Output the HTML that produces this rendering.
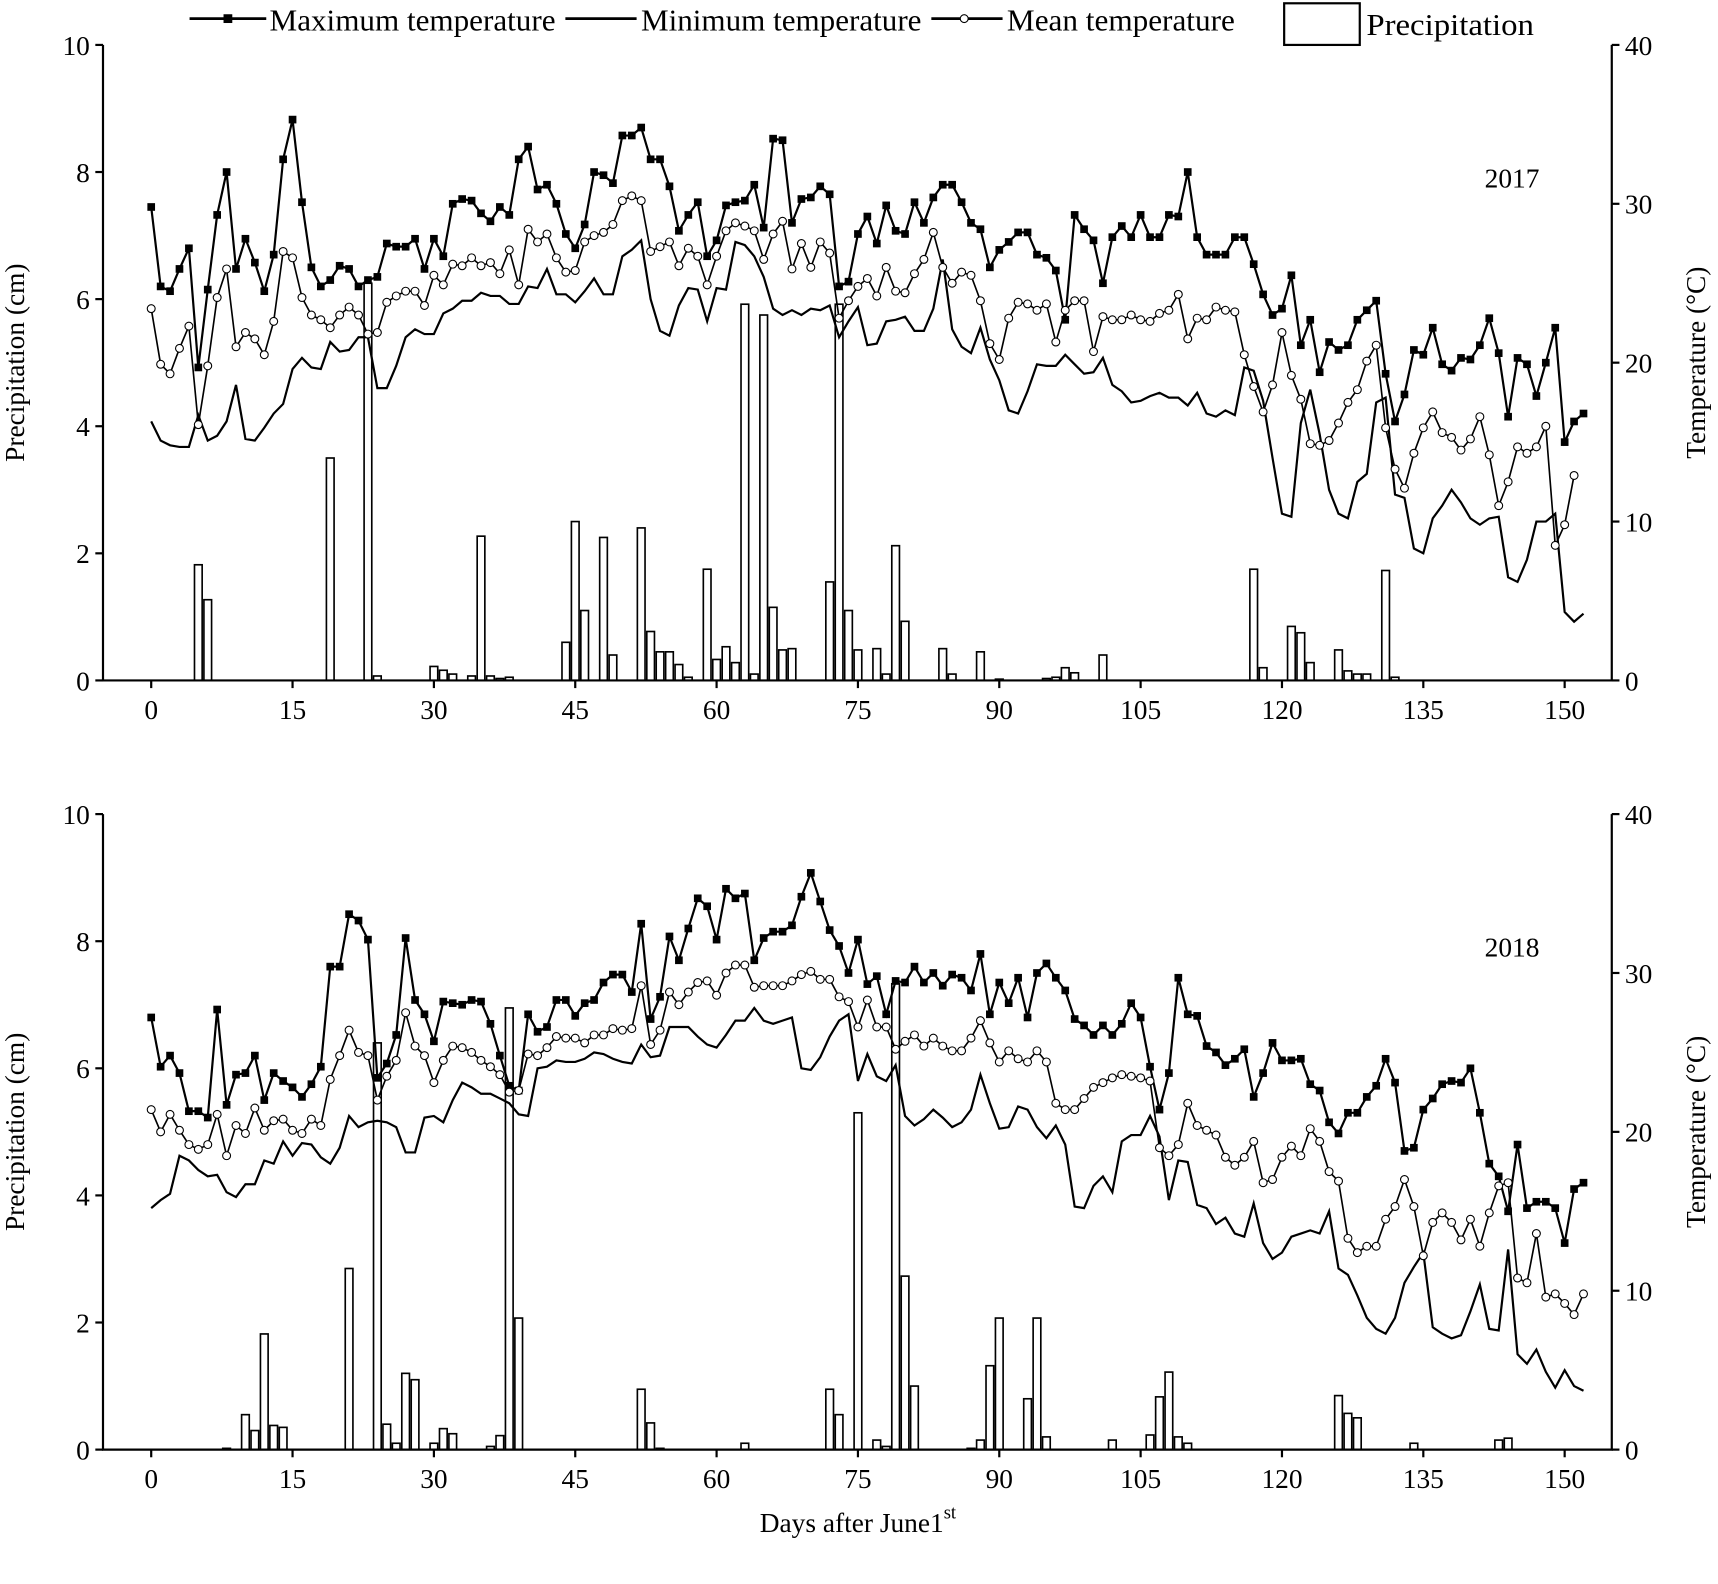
<!DOCTYPE html>
<html><head><meta charset="utf-8"><style>
html,body{margin:0;padding:0;background:#fff;}
svg{display:block;font-family:"Liberation Serif",serif;}
</style></head><body>
<svg width="1718" height="1584" xmlns="http://www.w3.org/2000/svg"><g id="s" transform="scale(1.0957)"></g></svg>
<script>
const mx17=[29.8,24.8,24.5,25.9,27.2,19.7,24.6,29.3,32,25.9,27.8,26.3,24.5,26.8,32.8,35.3,30.1,26,24.8,25.2,26.1,25.9,24.8,25.2,25.4,27.5,27.3,27.3,27.8,25.9,27.8,26.7,30,30.3,30.2,29.4,28.9,29.8,29.3,32.8,33.6,30.9,31.2,30,28.1,27.2,28.7,32,31.8,31.3,34.3,34.3,34.8,32.8,32.8,31.1,28.3,29.3,30.1,26.7,27.7,29.9,30.1,30.2,31.2,28.5,34.1,34,28.8,30.3,30.4,31.1,30.6,24.8,25.1,28.1,29.2,27.5,29.9,28.3,28.1,30.1,28.8,30.4,31.2,31.2,30.1,28.8,28.4,26,27.1,27.6,28.2,28.2,26.8,26.6,25.8,22.7,29.3,28.4,27.7,25,27.9,28.6,27.9,29.3,27.9,27.9,29.3,29.2,32,27.9,26.8,26.8,26.8,27.9,27.9,26.2,24.3,23,23.4,25.5,21.1,22.7,19.4,21.3,20.8,21.1,22.7,23.3,23.9,19.3,16.3,18,20.8,20.5,22.2,19.9,19.5,20.3,20.2,21.1,22.8,20.6,16.6,20.3,19.9,17.9,20,22.2,15,16.3,16.8];
const mn17=[16.3,15.1,14.8,14.7,14.7,16.7,15.1,15.4,16.3,18.6,15.2,15.1,15.9,16.8,17.4,19.6,20.3,19.7,19.6,21.3,20.7,20.8,21.6,21.6,18.4,18.4,19.8,21.6,22.1,21.8,21.8,23.1,23.4,23.9,23.9,24.4,24.2,24.2,23.7,23.7,24.8,24.7,25.9,24.3,24.3,23.8,24.5,25.3,24.3,24.3,26.7,27.1,27.7,24,22,21.7,23.6,24.7,24.6,22.6,24.7,24.6,27.6,27.4,26.7,25.4,23.4,23,23.3,23,23.4,23.3,23.6,21.6,22.6,23.5,21.1,21.2,22.6,22.7,22.9,22,22,23.4,26.5,22.1,21,20.6,22.2,20.2,18.9,17,16.8,18.2,19.9,19.8,19.8,20.5,19.9,19.3,19.4,20.3,18.6,18.2,17.5,17.6,17.9,18.1,17.8,17.8,17.3,18.1,16.8,16.6,17,16.7,19.7,19.5,17.6,14,10.5,10.3,16.2,18.3,15.5,12,10.5,10.2,12.5,13,17.5,17.8,11.7,11.5,8.3,8,10.2,11,12,11.2,10.2,9.8,10.2,10.3,6.5,6.2,7.6,10,10,10.5,4.3,3.7,4.2];
const me17=[23.4,19.9,19.3,20.9,22.3,16.1,19.8,24.1,25.9,21,21.9,21.5,20.5,22.6,27,26.6,24.1,23,22.7,22.2,23,23.5,23,21.8,21.9,23.8,24.2,24.5,24.5,23.6,25.5,24.9,26.2,26.1,26.6,26.1,26.3,25.6,27.1,24.9,28.4,27.6,28.1,26.6,25.7,25.8,27.6,28,28.2,28.7,30.2,30.5,30.2,27,27.3,27.6,26.1,27.2,26.7,24.9,26.7,28.3,28.8,28.6,28.3,26.5,28.1,28.9,25.9,27.5,26,27.6,26.9,22.8,23.9,24.8,25.3,24.2,26,24.5,24.4,25.6,26.5,28.2,26,25,25.7,25.5,23.9,21.2,20.2,22.8,23.8,23.7,23.3,23.7,21.3,23.3,23.9,23.9,20.7,22.9,22.7,22.7,23,22.7,22.6,23.1,23.3,24.3,21.5,22.8,22.7,23.5,23.3,23.2,20.5,18.5,16.9,18.6,21.9,19.2,17.7,14.9,14.8,15.1,16.2,17.5,18.3,20.1,21.1,15.9,13.3,12.1,14.3,15.9,16.9,15.6,15.3,14.5,15.2,16.6,14.2,11,12.5,14.7,14.3,14.7,16,8.5,9.8,12.9];
const p17={5:1.82,6:1.27,19:3.5,23:6.25,24:0.07,30:0.22,31:0.16,32:0.1,34:0.07,35:2.27,36:0.07,37:0.03,38:0.05,44:0.6,45:2.5,46:1.1,48:2.25,49:0.4,52:2.4,53:0.77,54:0.45,55:0.45,56:0.25,57:0.05,59:1.75,60:0.33,61:0.53,62:0.28,63:5.92,64:0.1,65:5.75,66:1.15,67:0.48,68:0.5,72:1.55,73:5.92,74:1.1,75:0.48,77:0.5,78:0.1,79:2.12,80:0.93,84:0.5,85:0.1,88:0.45,90:0.02,95:0.03,96:0.05,97:0.2,98:0.12,101:0.4,117:1.75,118:0.2,121:0.85,122:0.75,123:0.28,126:0.48,127:0.15,128:0.1,129:0.1,131:1.73,132:0.05};
const mx18=[27.2,24.1,24.8,23.7,21.3,21.3,20.9,27.7,21.7,23.6,23.7,24.8,22,23.7,23.2,22.8,22.2,23,24.1,30.4,30.4,33.7,33.3,32.1,23.4,24.3,26.1,32.2,28.3,27.4,25.7,28.2,28.1,28,28.3,28.2,26.8,24.8,22.9,22.6,27.4,26.3,26.6,28.3,28.3,27.3,28.1,28.3,29.4,29.9,29.9,28.8,33.1,27.1,28.5,32.3,30.8,32.8,34.7,34.2,32.1,35.3,34.7,35,30.8,32.2,32.6,32.6,33,34.8,36.3,34.5,32.7,31.7,30,32.1,29.3,29.8,27.4,29.5,29.4,30.4,29.4,30,29.2,29.9,29.7,28.9,31.2,27.4,29.4,28.1,29.7,27.2,30,30.6,29.7,28.9,27.1,26.7,26.1,26.7,26.1,26.8,28.1,27.2,24.1,21.4,23.7,29.7,27.4,27.3,25.4,25,24.2,24.6,25.2,22.2,23.7,25.6,24.5,24.5,24.6,23,22.6,20.6,19.9,21.2,21.2,22.2,22.9,24.6,23.1,18.8,19,21.4,22.1,23,23.2,23.1,24,21.2,18,17.2,15,19.2,15.2,15.6,15.6,15.2,13,16.4,16.8];
const mn18=[15.2,15.7,16.1,18.5,18.2,17.6,17.2,17.3,16.2,15.9,16.7,16.7,18.2,18,19.4,18.5,19.3,19.2,18.4,18,19,21,20.3,20.6,20.7,20.6,20.3,18.7,18.7,20.9,21,20.6,22,23.1,22.8,22.4,22.4,22.1,21.8,21.1,21,24,24.1,24.5,24.4,24.4,24.6,25,24.9,24.6,24.4,24.3,25.5,24.7,24.8,26.6,26.6,26.6,26,25.5,25.3,26.1,27,27,27.8,27,26.8,27,27.2,24,23.9,24.7,26,27,27.4,23.2,24.9,23.5,23.2,24.2,21,20.4,20.8,21.4,20.9,20.3,20.6,21.4,23.6,21.8,20.2,20.3,21.6,21.4,20.3,19.6,20.4,19.2,15.3,15.2,16.6,17.2,16.2,19.4,19.8,19.8,21,19.7,15.7,18.2,18.1,15.4,15.2,14.2,14.6,13.6,13.4,15.5,13,12,12.4,13.4,13.6,13.8,13.6,15,11.4,11,9.7,8.3,7.6,7.3,8.3,10.5,11.5,12.4,7.7,7.3,7,7.2,8.7,10.4,7.6,7.5,12.6,6,5.4,6.3,4.9,3.9,5,4,3.7,4.1];
const me18=[21.4,20,21.1,20.1,19.2,18.9,19.2,21.1,18.5,20.4,19.9,21.5,20.1,20.7,20.8,20.1,19.9,20.8,20.4,23.3,24.8,26.4,25,24.8,22,23.5,24.5,27.5,25.4,24.8,23.1,24.5,25.4,25.3,25,24.5,24.1,23.6,22.5,22.6,24.9,24.8,25.3,26,25.9,25.9,25.6,26.1,26.1,26.5,26.4,26.5,29.2,25.5,26.4,28.8,28,28.8,29.4,29.5,28.6,30,30.5,30.5,29.1,29.2,29.2,29.2,29.5,29.9,30.1,29.6,29.6,28.5,28.2,26.6,28.3,26.6,26.6,25.2,25.7,26.1,25.4,25.9,25.4,25.1,25.1,25.9,27,25.6,24.4,25.1,24.6,24.4,25.1,24.4,21.8,21.4,21.4,22.1,22.8,23.1,23.4,23.6,23.5,23.4,23.2,19,18.5,19.2,21.8,20.4,20.1,19.8,18.4,17.9,18.4,19.4,16.8,17,18.4,19.1,18.5,20.2,19.4,17.5,16.9,13.3,12.4,12.8,12.8,14.5,15.3,17,15.3,12.2,14.3,14.9,14.3,13.2,14.5,12.8,14.9,16.6,16.8,10.8,10.5,13.6,9.6,9.8,9.2,8.5,9.8,12.8];
const p18={8:0.02,10:0.55,11:0.3,12:1.82,13:0.38,14:0.35,21:2.85,24:6.4,25:0.4,26:0.1,27:1.2,28:1.1,30:0.1,31:0.33,32:0.25,36:0.05,37:0.22,38:6.95,39:2.07,52:0.95,53:0.42,54:0.02,63:0.1,72:0.95,73:0.55,75:5.3,77:0.15,78:0.05,79:7.33,80:2.73,81:1.0,87:0.02,88:0.15,89:1.32,90:2.07,93:0.8,94:2.07,95:0.2,102:0.15,106:0.23,107:0.83,108:1.22,109:0.2,110:0.1,126:0.85,127:0.57,128:0.5,134:0.1,143:0.15,144:0.18};
let h='';
const X=d=>138+d*8.6;
function panel(top,base,mx,mn,me,p,yr){
  const cy=c=>base-c*58, ty=t=>base-t*14.5;
  for(const k in p){const d=+k,v=p[k];h+=`<rect x="${X(d)-3.5}" y="${cy(v)}" width="7" height="${v*58}" fill="#fff" stroke="#000" stroke-width="1.5"/>`;}
  const pl=(a,n)=>a.slice(0,n).map((t,i)=>X(i).toFixed(1)+','+ty(t).toFixed(1)).join(' ');
  h+=`<polyline points="${pl(mn,153)}" fill="none" stroke="#000" stroke-width="2"/>`;
  h+=`<polyline points="${pl(mx,153)}" fill="none" stroke="#000" stroke-width="2"/>`;
  mx.slice(0,153).forEach((t,i)=>{h+=`<rect x="${X(i)-3.5}" y="${ty(t)-3.5}" width="7" height="7" fill="#000"/>`;});
  h+=`<polyline points="${pl(me,153)}" fill="none" stroke="#000" stroke-width="1.5"/>`;
  me.slice(0,153).forEach((t,i)=>{h+=`<circle cx="${X(i)}" cy="${ty(t)}" r="3.6" fill="#fff" stroke="#000" stroke-width="1"/>`;});
  h+=`<path d="M94 ${top}V${base}H1471V${top}" fill="none" stroke="#000" stroke-width="2"/>`;
  for(let c=0;c<=10;c+=2){const y=cy(c);h+=`<line x1="87" y1="${y}" x2="94" y2="${y}" stroke="#000" stroke-width="2"/><text x="82" y="${y+9}" font-size="25" text-anchor="end">${c}</text>`;}
  for(let t=0;t<=40;t+=10){const y=ty(t);h+=`<line x1="1471" y1="${y}" x2="1478" y2="${y}" stroke="#000" stroke-width="2"/><text x="1483" y="${y+9}" font-size="25">${t}</text>`;}
  for(let d=0;d<=150;d+=15){const x=X(d);h+=`<line x1="${x}" y1="${base}" x2="${x}" y2="${base+7}" stroke="#000" stroke-width="2"/><text x="${x}" y="${base+35}" font-size="25" text-anchor="middle">${d}</text>`;}
  h+=`<text transform="translate(22 ${(top+base)/2}) rotate(-90)" font-size="25" text-anchor="middle">Precipitation (cm)</text>`;
  h+=`<text transform="translate(1556 ${(top+base)/2}) rotate(-90)" font-size="25" text-anchor="middle">Temperature (°C)</text>`;
  h+=`<text x="1355" y="${top+130}" font-size="25">${yr}</text>`;
}
panel(41,621,mx17,mn17,me17,p17,'2017');
panel(743,1323,mx18,mn18,me18,p18,'2018');
h+=`<line x1="173" y1="17" x2="243" y2="17" stroke="#000" stroke-width="2.5"/><rect x="204" y="13" width="8" height="8"/><text x="246" y="28" font-size="28" textLength="261" lengthAdjust="spacingAndGlyphs">Maximum temperature</text>`;
h+=`<line x1="516" y1="17" x2="581" y2="17" stroke="#000" stroke-width="2.5"/><text x="585" y="28" font-size="28" textLength="256" lengthAdjust="spacingAndGlyphs">Minimum temperature</text>`;
h+=`<line x1="850" y1="17" x2="915" y2="17" stroke="#000" stroke-width="2.5"/><circle cx="880" cy="17" r="3.6" fill="#fff" stroke="#000"/><text x="919" y="28" font-size="28" textLength="208" lengthAdjust="spacingAndGlyphs">Mean temperature</text>`;
h+=`<rect x="1172" y="3" width="69" height="38" fill="#fff" stroke="#000" stroke-width="2"/><text x="1247" y="32" font-size="28" textLength="153" lengthAdjust="spacingAndGlyphs">Precipitation</text>`;
h+=`<text x="783" y="1398" font-size="25" text-anchor="middle">Days after June1<tspan font-size="17" dy="-12">st</tspan></text>`;
document.getElementById('s').innerHTML=h;
</script>
</body></html>
